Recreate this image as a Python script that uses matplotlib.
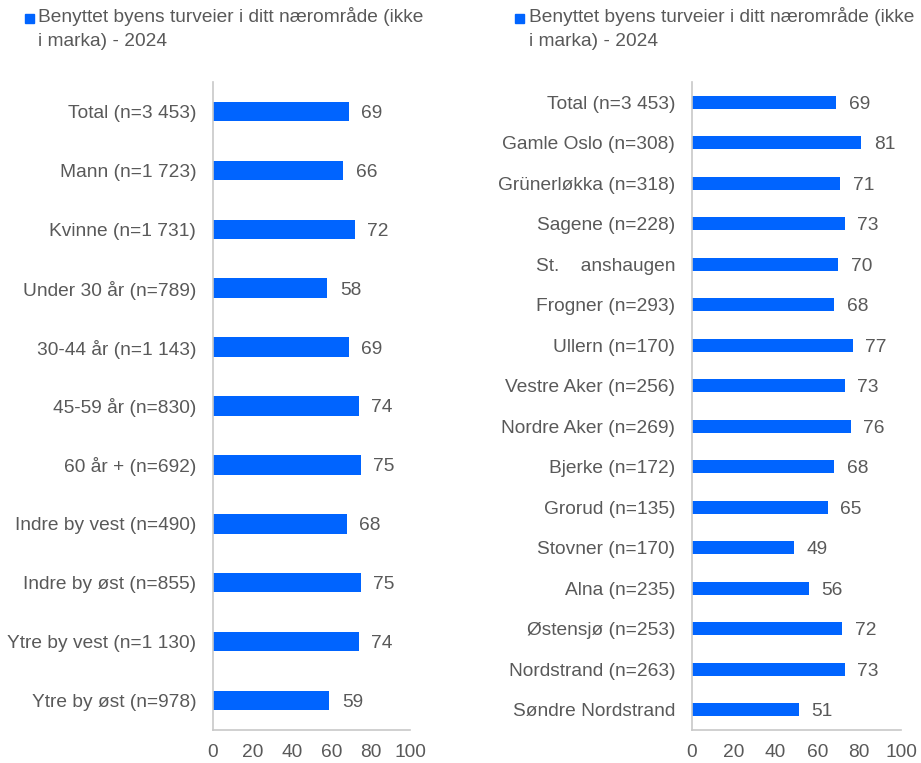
import matplotlib
matplotlib.use("Agg")
import matplotlib.pyplot as plt
from matplotlib.patches import Rectangle

plt.rcParams['font.family'] = ['Liberation Sans', 'DejaVu Sans']

legend_label = "Benyttet byens turveier i ditt nærområde (ikke\ni marka) - 2024"

left_categories = ["Total (n=3 453)", "Mann (n=1 723)", "Kvinne (n=1 731)", "Under 30 år (n=789)",
                   "30-44 år (n=1 143)", "45-59 år (n=830)", "60 år + (n=692)",
                   "Indre by vest (n=490)", "Indre by øst (n=855)", "Ytre by vest (n=1 130)",
                   "Ytre by øst (n=978)"]
left_values = [69, 66, 72, 58, 69, 74, 75, 68, 75, 74, 59]

right_categories = ["Total (n=3 453)", "Gamle Oslo (n=308)", "Grünerløkka (n=318)", "Sagene (n=228)",
                    "St.    anshaugen", "Frogner (n=293)", "Ullern (n=170)", "Vestre Aker (n=256)",
                    "Nordre Aker (n=269)", "Bjerke (n=172)", "Grorud (n=135)", "Stovner (n=170)",
                    "Alna (n=235)", "Østensjø (n=253)", "Nordstrand (n=263)", "Søndre Nordstrand"]
right_values = [69, 81, 71, 73, 70, 68, 77, 73, 76, 68, 65, 49, 56, 72, 73, 51]

xticks = [0, 20, 40, 60, 80, 100]

BLUE = "#0064FF"
TEXT = "#595959"
AXIS = "#C8C8C8"
FS = 13.8

W, H = 921, 763
fig = plt.figure(figsize=(W / 100, H / 100), dpi=100)

def fx(px):
    return px / W

def fy(py):
    return 1 - py / H

def make_axes(rect, cats, vals):
    ax = fig.add_axes(rect)
    n = len(cats)
    ys = list(range(n))
    ax.barh(ys, vals, height=0.33, color=BLUE, zorder=2)
    ax.set_ylim(n - 0.5, -0.5)
    ax.set_xlim(0, 100)
    ax.set_yticks(ys)
    ax.set_yticklabels(cats, fontsize=FS, color=TEXT, va='center_baseline')
    ax.set_xticks(xticks)
    ax.set_xticklabels([str(t) for t in xticks], fontsize=FS, color=TEXT)
    ax.tick_params(axis='both', length=0)
    ax.tick_params(axis='y', pad=12)
    ax.tick_params(axis='x', pad=10)
    for s in ['top', 'right']:
        ax.spines[s].set_visible(False)
    ax.spines['left'].set_color(AXIS)
    ax.spines['bottom'].set_color(AXIS)
    ax.spines['left'].set_linewidth(1.2)
    ax.spines['bottom'].set_linewidth(1.2)
    for y, v in zip(ys, vals):
        ax.annotate(str(v), (v, y), xytext=(9, 0), textcoords='offset points',
                    va='center_baseline', ha='left', fontsize=FS, color=TEXT)
    return ax

# left panel
axL = make_axes([fx(213), fy(730), fx(410) - fx(213), fy(82) - fy(730)], left_categories, left_values)
# right panel
axR = make_axes([fx(692), fy(730), fx(901) - fx(692), fy(82) - fy(730)], right_categories, right_values)

def legend(sq_x, text_x):
    fig.patches.append(Rectangle((fx(sq_x), fy(23)), fx(9), 9 / H, transform=fig.transFigure,
                                 color=BLUE))
    fig.text(fx(text_x), fy(7), legend_label, fontsize=FS, color=TEXT, va='top', ha='left',
             linespacing=1.5)

legend(25, 38)
legend(515, 529)

fig.savefig("out.png", dpi=100)
